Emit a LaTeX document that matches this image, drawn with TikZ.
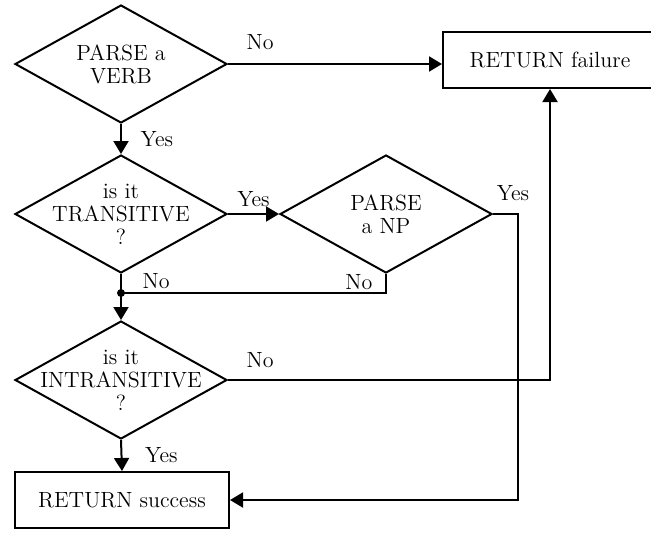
\documentclass[tikz,border=0pt]{standalone}
\usetikzlibrary{shapes.geometric,arrows.meta}

\begin{document}
\begin{tikzpicture}[x=0.5pt, y=-0.5pt, line width=1pt,
    every node/.style={font=\fontsize{11}{11.5}\selectfont},
    test/.style={diamond, draw, minimum width=106pt, minimum height=59pt, inner sep=0pt},
    txt/.style={align=center, inner sep=0pt},
    ret/.style={rectangle, draw, minimum width=107pt, minimum height=28pt},
    arr/.style={-{Triangle[length=6.5pt,width=7.5pt]}}]
    \useasboundingbox (0,0) rectangle (651,532);

    \node[test, label={[txt]center:PARSE a\\VERB}] (verb) at (121,64) {};
    \node[test, label={[txt]center:is it\\TRANSITIVE\\?}] (trans) at (121,214) {};
    \node[test, label={[txt]center:PARSE\\a NP}] (np) at (386,214) {};
    \node[test, label={[txt]center:is it\\INTRANSITIVE\\?}] (intrans) at (121,380) {};

    \node[ret] (fail) at (550,60) {RETURN failure};
    \node[ret] (succ) at (122,500) {RETURN success};

    \coordinate (join) at (121,293);

    \draw[arr] (verb.east) -- (verb.east -| fail.west) node [pos=0.15,above=3.4pt] {No};
    \draw[arr] (verb.south) -- (trans.north) node [pos=0.5,right=6pt] {Yes};
    \draw[arr] (trans.east) -- (np.west) node [pos=0.5,above] {Yes};
    \draw[arr] (np.east) -- ++(25,0) node [pos=0.8,above=3pt] {Yes} |- (succ.east);

    \draw (trans.south) -- (join) node [pos=0.35,right=7pt] {No};
    \draw (np.south) |- (join) node [pos=0.2,left=3pt] {No};
    \fill (join) circle (2pt);
    \draw[arr] (join) -- (intrans.north);

    \draw[arr] (intrans.east) -| (fail.south) node [pos=0.05,above=2.5pt] {No};
    \draw[arr] (intrans.south) -- (succ.north) node [pos=0.5,right=8pt] {Yes};

\end{tikzpicture}
\end{document}
